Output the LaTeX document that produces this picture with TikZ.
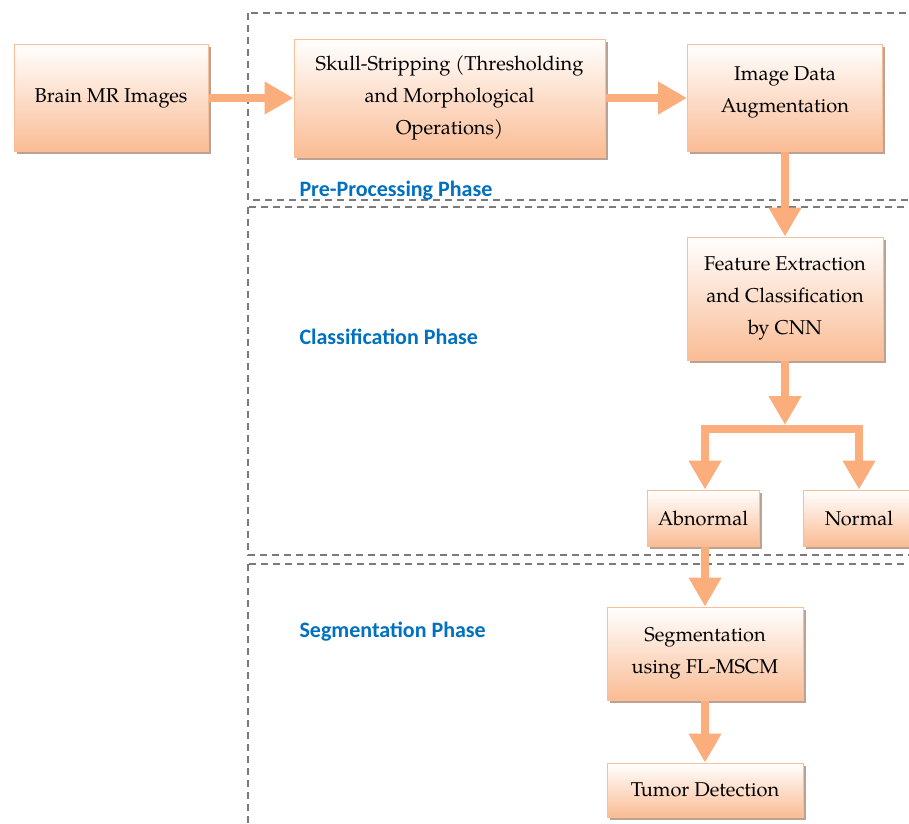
\documentclass[tikz,border=0pt]{standalone}
\usepackage{fontspec}
\newfontfamily\boxfont{texgyrepagella}[Extension=.otf,UprightFont=*-regular,BoldFont=*-bold]
\newfontfamily\phasefont{Carlito}
\usepackage{tikz}
\usetikzlibrary{calc}
\usetikzlibrary{arrows.meta,shapes,positioning,shadows}
\tikzset{>=stealth}
\definecolor{boxedge}{RGB}{250,190,150}
\definecolor{boxfill}{RGB}{250,188,148}
\definecolor{flowc}{RGB}{251,174,124}
\definecolor{phaseblue}{RGB}{0,112,192}
\definecolor{shadowc}{RGB}{170,140,120}
\tikzset{
  stage/.style={rectangle,draw=boxedge,line width=1pt,top color=white,
    middle color=boxfill!35,bottom color=boxfill,inner sep=0pt,align=center,
    font=\boxfont\fontsize{20}{32}\selectfont,
    drop shadow={shadow xshift=2.5pt,shadow yshift=-2.5pt,fill=shadowc,opacity=.8}},
  flow/.style={draw=flowc,line width=8pt,line join=miter,-{Triangle[width=31pt,length=29pt]}},
  phasebox/.style={draw=black!52,line width=2pt,dash pattern=on 7pt off 5pt},
  phase/.style={anchor=base west,text=phaseblue,font=\phasefont\bfseries\fontsize{22}{24}\selectfont}
}

\begin{document}
\begin{tikzpicture}[x=1pt,y=-1pt]
  \clip (0,0) rectangle (909,823);
  \fill[white] (0,0) rectangle (909,823);
  % phases
  \draw[phasebox] (248,13) rectangle (930,200);
  \draw[phasebox] (248,207) rectangle (930,555);
  \draw[phasebox] (248,564) rectangle (930,840);
  \node[phase] (prelbl) at (296,196) {Pre-Processing Phase};
  \node[phase] (clslbl) at (296,344) {Classification Phase};
  \node[phase] (seglbl) at (296,637) {Segmentation Phase};
  % boxes
  \node[stage,minimum width=194pt,minimum height=107pt] (brain) at (111,98) {Brain MR Images};
  \node[stage,minimum width=311pt,minimum height=118pt] (skull) at (449.5,98) {Skull-Stripping (Thresholding\\and Morphological\\Operations)};
  \node[stage,minimum width=195pt,minimum height=107pt] (augment) at (785,98) {Image Data\\Augmentation\\[-16pt]\mbox{}};
  \node[stage,minimum width=196pt,minimum height=123pt] (feature) at (785,298.5) {Feature Extraction\\and Classification\\by CNN};
  \node[stage,minimum width=112pt,minimum height=56pt] (abnormal) at (703,518) {Abnormal};
  \node[stage,minimum width=112pt,minimum height=56pt] (normal) at (859,518) {Normal};
  \node[stage,minimum width=196pt,minimum height=93pt] (segm) at (705,653.5) {Segmentation\\using FL-MSCM};
  \node[stage,minimum width=196pt,minimum height=54pt] (tumor) at (705,790) {Tumor Detection};
  \coordinate (split) at (785,429);
  \coordinate (left) at (705,429);
  \coordinate (right) at (859,429);
  % connectors
  \draw[flow] (brain) -- (skull);
  \draw[flow] (skull) -- (augment);
  \draw[flow] (augment) -- (feature);
  \draw[flow,shorten >=4pt] (feature) -- (split);
  \draw[flow] (split) -- (left) -- (left |- abnormal.north);
  \draw[flow] (split) -- (right) -- (normal.north);
  \draw[flow] (left |- abnormal.south) -- (segm.north);
  \draw[flow] (segm) -- (tumor);
\end{tikzpicture}
\end{document}
